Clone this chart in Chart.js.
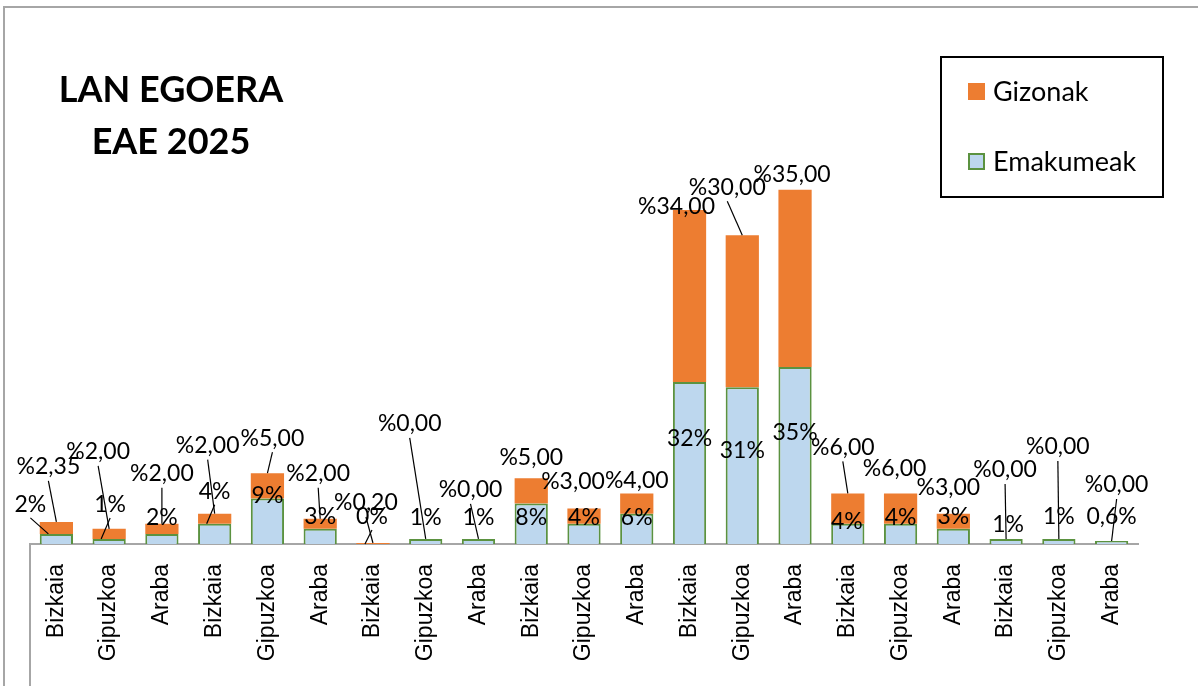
<!DOCTYPE html>
<html>
<head>
<meta charset="utf-8">
<script src="https://cdn.jsdelivr.net/npm/chart.js@4"></script>
<style>
  html, body { margin: 0; padding: 0; background: #fff; }
  #wrap { position: relative; width: 1198px; height: 686px; }
</style>
</head>
<body>
<div id="wrap"><canvas id="chart"></canvas></div>
<script>
const categories = ['Bizkaia', 'Gipuzkoa', 'Araba', 'Bizkaia', 'Gipuzkoa', 'Araba', 'Bizkaia',
  'Gipuzkoa', 'Araba', 'Bizkaia', 'Gipuzkoa', 'Araba', 'Bizkaia', 'Gipuzkoa', 'Araba',
  'Bizkaia', 'Gipuzkoa', 'Araba', 'Bizkaia', 'Gipuzkoa', 'Araba'];
const women = [2, 1, 2, 4, 9, 3, 0, 1, 1, 8, 4, 6, 32, 31, 35, 4, 4, 3, 1, 1, 0.6];
const men = [2.35, 2, 2, 2, 5, 2, 0.2, 0, 0, 5, 3, 4, 34, 30, 35, 6, 6, 3, 0, 0, 0];
const titleLines = ['LAN EGOERA', 'EAE 2025'];

// label nudges (px), like the hand-moved Excel labels
const menLabelDx = [-8, -11, 0, -7, 5, -2, -7, -16, -8, 0, -11, 0, -13, -15, -3, -5, -6, -5, -1, -1, 5];
const menLabelDy = [-55, -77, -50, -68, -35, -45, -40, -115, -49, -21, -27, -13, -3, -48, -15, -46, -25, -26, -69, -92, -56];
const womenLabelDx = [-26, 1, 0, 0, 0, 0, -1, 0, 0, 0, 0, 0, 0, 0, 0, -1, 0, 0, 2, 0, 0];
const womenLabelDy = [-29, -34, -16, -32, -3, -12, -27, -21, -21, 14, -6, 4, 56, 63, 66, -2, -6, -12, -14, -22, -24];

const ORANGE = '#ED7D31';
const BLUE = '#BDD7EE';
const GREEN = '#5B9240';

const fmtMen = v => '%' + v.toFixed(2).replace('.', ',');
const fmtWomen = v => String(v).replace('.', ',') + '%';

const extras = {
  id: 'extras',
  afterDatasetsDraw(chart) {
    const ctx = chart.ctx;
    const area = chart.chartArea;
    const wMeta = chart.getDatasetMeta(0);
    const mMeta = chart.getDatasetMeta(1);

    ctx.save();
    // outer frame
    ctx.strokeStyle = '#A6A6A6';
    ctx.lineWidth = 2;
    ctx.beginPath();
    ctx.moveTo(4, 686);
    ctx.lineTo(4, 7);
    ctx.lineTo(1198, 7);
    ctx.stroke();
    // left separator under the axis
    ctx.beginPath();
    ctx.moveTo(area.left, area.bottom);
    ctx.lineTo(area.left, 686);
    ctx.stroke();

    ctx.font = '23px Lato';
    ctx.fillStyle = '#000';
    ctx.textAlign = 'center';
    ctx.textBaseline = 'middle';
    ctx.strokeStyle = '#000';
    ctx.lineWidth = 1.2;

    wMeta.data.forEach((bar, i) => {
      const lx = bar.x + womenLabelDx[i];
      const ly = bar.y + womenLabelDy[i];
      if (womenLabelDy[i] < -25) {
        ctx.beginPath();
        ctx.moveTo(lx, ly + 13);
        ctx.lineTo(bar.x - 8, bar.y);
        ctx.stroke();
      }
      ctx.fillText(fmtWomen(women[i]), lx, ly);
    });

    mMeta.data.forEach((bar, i) => {
      const lx = bar.x + menLabelDx[i];
      const ly = bar.y + menLabelDy[i];
      if (menLabelDy[i] < -30) {
        ctx.beginPath();
        ctx.moveTo(lx, ly + 14);
        ctx.lineTo(bar.x, bar.y);
        ctx.stroke();
      }
      ctx.fillText(fmtMen(men[i]), lx, ly);
    });

    // title
    ctx.font = 'bold 36px Lato';
    ctx.fillText(titleLines[0], 171, 90);
    ctx.fillText(titleLines[1], 171, 142);

    // legend
    ctx.lineWidth = 2;
    ctx.strokeRect(941, 57, 222, 140);
    ctx.textAlign = 'left';
    ctx.font = '27px Lato';
    ctx.fillStyle = ORANGE;
    ctx.fillRect(968, 83, 17, 17);
    ctx.fillStyle = BLUE;
    ctx.fillRect(968, 153, 17, 17);
    ctx.strokeStyle = GREEN;
    ctx.strokeRect(969, 154, 15, 15);
    ctx.fillStyle = '#000';
    ctx.fillText(chart.data.datasets[1].label, 993, 92);
    ctx.fillText(chart.data.datasets[0].label, 993, 162);
    ctx.restore();
  }
};

new Chart(document.getElementById('chart'), {
  type: 'bar',
  data: {
    labels: categories,
    datasets: [{
      label: 'Emakumeak',
      data: women,
      backgroundColor: BLUE,
      borderColor: GREEN,
      borderWidth: 2,
      barPercentage: 0.63,
      categoryPercentage: 1
    }, {
      label: 'Gizonak',
      data: men,
      backgroundColor: ORANGE,
      borderWidth: 0,
      barPercentage: 0.63,
      categoryPercentage: 1
    }]
  },
  options: {
    responsive: true,
    maintainAspectRatio: false,
    animation: false,
    layout: { padding: { top: 38, left: 30, right: 60, bottom: 0 } },
    plugins: {
      legend: { display: false },
      title: { display: false },
      tooltip: { enabled: false }
    },
    scales: {
      x: {
        stacked: true,
        grid: { display: false },
        border: { display: true, color: '#A6A6A6', width: 2 },
        ticks: {
          minRotation: 90,
          maxRotation: 90,
          padding: 12,
          color: '#000',
          font: { family: '"Liberation Sans"', size: 23 }
        },
        afterFit(scale) { scale.height = 142; }
      },
      y: {
        stacked: true,
        display: false,
        min: 0,
        max: 100
      }
    }
  },
  plugins: [extras]
});
</script>
</body>
</html>
